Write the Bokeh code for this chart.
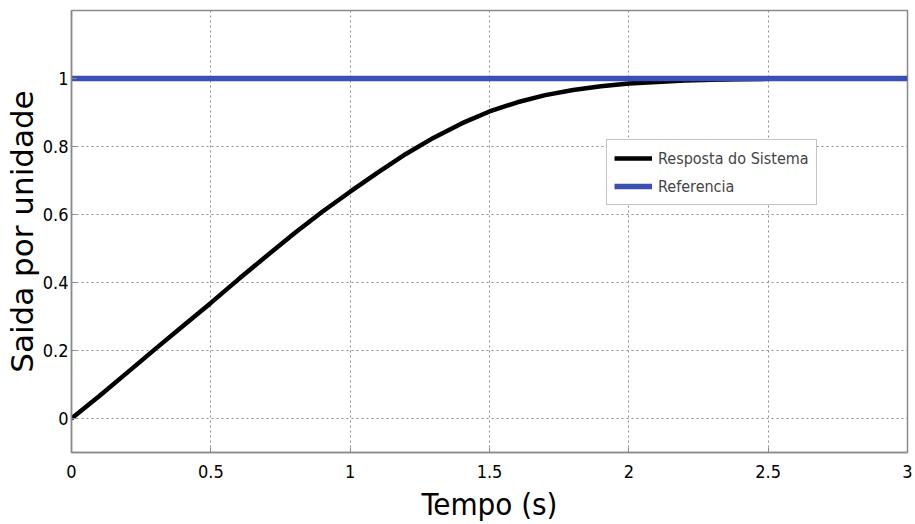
from bokeh.plotting import figure
from bokeh.models import Range1d, FixedTicker, Legend, LegendItem
from bokeh.embed import file_html
from bokeh.resources import INLINE

# Step response of the system (per-unit output vs. time)
tempo = [0.0, 0.1, 0.2, 0.3, 0.4, 0.5, 0.6, 0.7, 0.8, 0.9, 1.0, 1.1, 1.2, 1.3,
         1.4, 1.5, 1.6, 1.7, 1.8, 1.9, 2.0, 2.1, 2.2, 2.3, 2.4, 2.5, 2.6, 2.7]
resposta = [0.0, 0.066, 0.135, 0.204, 0.272, 0.34, 0.41, 0.478, 0.545, 0.608,
            0.667, 0.724, 0.778, 0.826, 0.868, 0.903, 0.93, 0.951, 0.966, 0.977,
            0.985, 0.99, 0.994, 0.996, 0.998, 0.999, 0.9995, 1.0]

# Unit reference (setpoint)
ref_tempo = [0.0, 3.0]
referencia = [1.0, 1.0]

x_ticks = [0, 0.5, 1, 1.5, 2, 2.5, 3]
x_tick_labels = ["0", "0.5", "1", "1.5", "2", "2.5", "3"]
y_ticks = [0, 0.2, 0.4, 0.6, 0.8, 1]
y_tick_labels = ["0", "0.2", "0.4", "0.6", "0.8", "1"]

NARROW = "Liberation Sans Narrow, DejaVu Sans Condensed, Liberation Sans, sans-serif"
GRID = "#8c8c8c"
FRAME = "#8a8a8a"

p = figure(width=915, height=524, output_backend="svg", toolbar_location=None,
           x_range=Range1d(0, 3), y_range=Range1d(-0.1, 1.2),
           min_border_left=0, min_border_right=8, min_border_top=10,
           min_border_bottom=0)

p.background_fill_color = "white"
p.border_fill_color = "white"
p.outline_line_color = FRAME
p.outline_line_width = 1.5

for ax in (p.xaxis[0], p.yaxis[0]):
    ax.axis_line_color = FRAME
    ax.axis_line_width = 1.5
    ax.major_tick_line_color = FRAME
    ax.major_tick_in = 5
    ax.major_tick_out = 0
    ax.minor_tick_line_color = None
    ax.major_label_text_font = NARROW
    ax.major_label_text_font_size = "18px"
    ax.major_label_text_color = "black"
    ax.axis_label_text_font_style = "normal"
    ax.axis_label_text_color = "black"

p.xaxis.ticker = FixedTicker(ticks=x_ticks)
p.yaxis.ticker = FixedTicker(ticks=y_ticks)
p.xaxis.major_label_overrides = dict(zip(x_ticks, x_tick_labels))
p.yaxis.major_label_overrides = dict(zip(y_ticks, y_tick_labels))
p.xaxis.major_label_standoff = 12
p.yaxis.major_label_standoff = 3

p.xaxis.axis_label = "Tempo (s)"
p.xaxis.axis_label_text_font = NARROW
p.xaxis.axis_label_text_font_size = "31px"
p.xaxis.axis_label_standoff = 5

p.yaxis.axis_label = "Saida por unidade"
p.yaxis.axis_label_text_font = "DejaVu Sans"
p.yaxis.axis_label_text_font_size = "31px"
p.yaxis.axis_label_standoff = 0

p.xgrid.ticker = FixedTicker(ticks=x_ticks)
p.ygrid.ticker = FixedTicker(ticks=y_ticks)
p.grid.grid_line_color = GRID
p.grid.grid_line_dash = "2 3"
p.grid.grid_line_width = 1

r_resp = p.line(tempo, resposta, line_color="black", line_width=4.5)
r_ref = p.line(ref_tempo, referencia, line_color="#3C50B4", line_width=5.5)

legend = Legend(items=[LegendItem(label="Resposta do Sistema", renderers=[r_resp]),
                       LegendItem(label="Referencia", renderers=[r_ref])],
                location=(535, 247), margin=0, padding=7, spacing=6,
                glyph_width=38, glyph_height=22, label_height=22,
                label_standoff=6, border_line_color=FRAME, border_line_width=1,
                label_text_font=NARROW, label_text_font_size="16px",
                background_fill_alpha=1.0)
p.add_layout(legend, "center")

open("out.html", "w").write(file_html(p, INLINE))
